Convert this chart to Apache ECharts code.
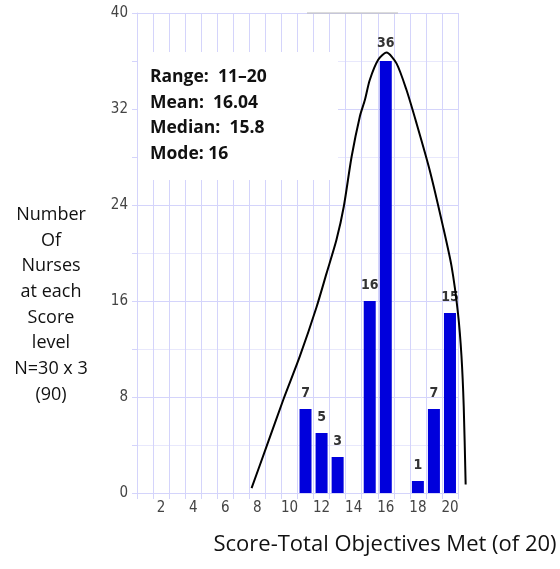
<!DOCTYPE html>
<html>
<head>
<meta charset="utf-8">
<script src="https://cdn.jsdelivr.net/npm/echarts@6/dist/echarts.min.js"></script>
<style>
html,body{margin:0;padding:0;background:#fff;}
#chart{width:560px;height:569px;}
</style>
</head>
<body>
<div id="chart"></div>
<script>
// Categories (score 1..20)
var scores = ['1','2','3','4','5','6','7','8','9','10','11','12','13','14','15','16','17','18','19','20'];
// Number of nurses at each score (null = no bar)
var counts = [null,null,null,null,null,null,null,null,null,null,7,5,3,null,16,36,null,1,7,15];
// Hand-drawn distribution curve: [score, count]
var curveX = [7.64,8.58,9.61,10.65,11.69,12.31,12.93,13.39,13.87,14.39,14.7,15.0,15.53,16.05,16.67,17.29,17.92,18.74,19.57,20.1,20.5,20.72,20.86,20.98];
var curveY = [0.4,3.9,7.75,11.4,15.5,18.3,21.1,23.9,28.0,31.4,32.75,34.4,36.1,36.7,35.8,33.6,30.8,26.9,22.2,18.9,15.0,11.4,7.2,0.7];
// Text
var statsLines = ['Range:  11\u201320','Mean:  16.04','Median:  15.8','Mode: 16'];
var yTitleLines = ['Number','Of','Nurses','at each','Score','level','N=30 x 3','(90)'];
var xTitle = 'Score-Total Objectives Met (of 20)';

var curveData = curveX.map(function(x,i){return [x, curveY[i]];});

var narrow = '"Liberation Sans Narrow","DejaVu Sans Condensed","Arial Narrow",sans-serif';
var grid = '#d4d4fb';

var chart = echarts.init(document.getElementById('chart'), null, {renderer:'canvas'});
chart.setOption({
  animation:false,
  backgroundColor:'#ffffff',
  grid:[
    {left:137,right:102,top:13,bottom:76,containLabel:false},
    {left:137,right:86,top:13,bottom:76,containLabel:false}
  ],
  xAxis:[{
    type:'category',
    gridIndex:0,
    data:scores,
    boundaryGap:true,
    axisLine:{show:true,lineStyle:{color:grid,width:1}},
    axisTick:{show:true,alignWithLabel:false,interval:0,length:6,lineStyle:{color:grid}},
    axisLabel:{interval:function(i){return i%2===1;},margin:8,color:'#444',fontFamily:narrow,fontSize:15},
    splitLine:{show:true,interval:0,lineStyle:{color:grid,width:1}}
  },{
    type:'value',gridIndex:1,min:0.5,max:21.5,show:false
  }],
  yAxis:[{
    type:'value',gridIndex:0,min:0,max:40,interval:4,
    axisLine:{show:true,lineStyle:{color:grid}},
    axisTick:{show:true,length:5,lineStyle:{color:grid}},
    axisLabel:{margin:9,color:'#444',fontFamily:narrow,fontSize:15,
      formatter:function(v){return v%8===0?String(v):'';}},
    splitLine:{show:true,lineStyle:{color:[grid,'#e8e8fc'],width:1}}
  },{
    type:'value',gridIndex:1,min:0,max:40,show:false
  }],
  series:[{
    type:'bar',
    xAxisIndex:0,
    yAxisIndex:0,
    data:counts.map(function(v,i){
      if(v===36) return {value:v,label:{distance:11}};
      return v;
    }),
    barWidth:12,
    itemStyle:{color:'#0000dc'},
    label:{show:true,position:'top',distance:9,color:'#333',fontFamily:narrow,fontWeight:'bold',fontSize:14},
    z:2
  },{
    type:'line',
    xAxisIndex:1,
    yAxisIndex:1,
    data:curveData,
    smooth:0.25,
    symbol:'none',
    lineStyle:{color:'#000',width:2},
    z:3
  }],
  graphic:[
    {type:'rect',z:1,shape:{x:138,y:52,width:200,height:128},style:{fill:'#fff'}},
    {type:'line',z:1,shape:{x1:307,y1:13,x2:398,y2:13},style:{stroke:'#b8b8b8',lineWidth:1}},
    {type:'text',z:5,left:150,top:64,style:{text:statsLines.join('\n'),font:'bold 17.5px "Open Sans",sans-serif',lineHeight:25.7,fill:'#111'}},
    {type:'text',z:5,x:51,y:202,style:{text:yTitleLines.join('\n'),font:'18px "Open Sans",sans-serif',lineHeight:25.7,fill:'#111',textAlign:'center'}},
    {type:'text',z:5,x:385,y:534,style:{text:xTitle,font:'22px "Open Sans",sans-serif',fill:'#111',textAlign:'center'}}
  ]
});
</script>
</body>
</html>
